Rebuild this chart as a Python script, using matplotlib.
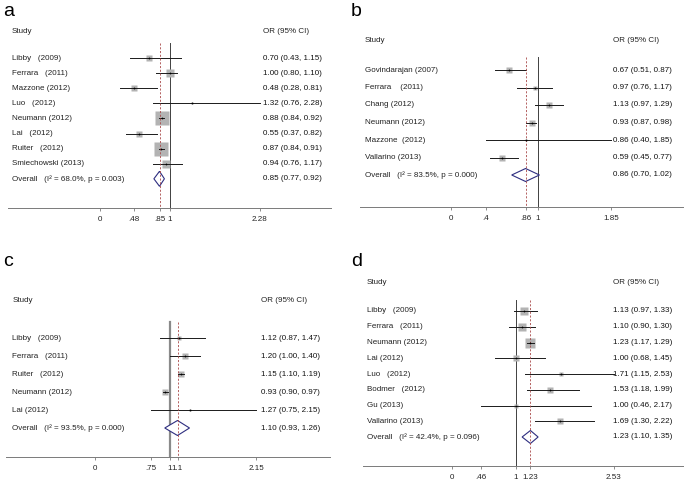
import numpy as np
import matplotlib
matplotlib.use("Agg")
import matplotlib.pyplot as plt
from matplotlib.patches import Polygon

plt.rcParams['font.family'] = ['Liberation Sans', 'DejaVu Sans']

W, H = 687, 483
FS = 5.8

##### DATA
# panel a
a_study = ["Libby   (2009)", "Ferrara   (2011)", "Mazzone (2012)", "Luo   (2012)",
           "Neumann (2012)", "Lai   (2012)", "Ruiter   (2012)", "Smiechowski (2013)"]
a_or = [0.70, 1.00, 0.48, 1.32, 0.88, 0.55, 0.87, 0.94]
a_lo = [0.43, 0.80, 0.28, 0.76, 0.84, 0.37, 0.84, 0.76]
a_hi = [1.15, 1.10, 0.81, 2.28, 0.92, 0.82, 0.91, 1.17]
a_wt = [5.1, 11.4, 6.9, 0.6, 27.7, 6.9, 31.8, 9.1]
a_pool = (0.85, 0.77, 0.92)
a_het = "68.0%", "0.003"
a_ticks = [0, 0.48, 0.85, 1, 2.28]
a_ticklabels = ["0", ".48", ".85", "1", "2.28"]

# panel b
b_study = ["Govindarajan (2007)", "Ferrara    (2011)", "Chang (2012)", "Neumann (2012)",
           "Mazzone  (2012)", "Vallarino (2013)"]
b_or = [0.67, 0.97, 1.13, 0.93, 0.86, 0.59]
b_lo = [0.51, 0.76, 0.97, 0.87, 0.40, 0.45]
b_hi = [0.87, 1.17, 1.29, 0.98, 1.85, 0.77]
b_wt = [18, 14, 19, 24, 3, 20]
b_pool = (0.86, 0.70, 1.02)
b_het = "83.5%", "0.000"
b_ticks = [0, 0.4, 0.86, 1, 1.85]
b_ticklabels = ["0", ".4", ".86", "1", "1.85"]

# panel c
c_study = ["Libby   (2009)", "Ferrara   (2011)", "Ruiter   (2012)", "Neumann (2012)", "Lai (2012)"]
c_or = [1.12, 1.20, 1.15, 0.93, 1.27]
c_lo = [0.87, 1.00, 1.10, 0.90, 0.75]
c_hi = [1.47, 1.40, 1.19, 0.97, 2.15]
c_wt = [17, 21, 29, 28, 5]
c_pool = (1.10, 0.93, 1.26)
c_het = "93.5%", "0.000"
c_ticks = [0, 0.75, 1, 1.1, 2.15]
c_ticklabels = ["0", ".75", "1", "1.1", "2.15"]

# panel d
d_study = ["Libby   (2009)", "Ferrara   (2011)", "Neumann (2012)", "Lai (2012)",
           "Luo   (2012)", "Bodmer   (2012)", "Gu (2013)", "Vallarino (2013)"]
d_or = [1.13, 1.10, 1.23, 1.00, 1.71, 1.53, 1.00, 1.69]
d_lo = [0.97, 0.90, 1.17, 0.68, 1.15, 1.18, 0.46, 1.30]
d_hi = [1.33, 1.30, 1.29, 1.45, 2.53, 1.99, 2.17, 2.22]
d_wt = [17, 15, 30, 8, 5, 9, 3, 9]
d_pool = (1.23, 1.10, 1.35)
d_het = "42.4%", "0.096"
d_ticks = [0, 0.46, 1, 1.23, 2.53]
d_ticklabels = ["0", ".46", "1", "1.23", "2.53"]

fig = plt.figure(figsize=(W / 100, H / 100), dpi=100)


def forest(letter, study, orv, lo, hi, wt, pool, het, ticks, ticklabels, lay):
    # lay: pixel layout of the panel
    x0, x1, px0, scale = lay["x0"], lay["x1"], lay["px0"], lay["scale"]
    ay, fy, sp, hy = lay["axis_y"], lay["first_y"], lay["sp"], lay["head_y"]
    top = hy - 12
    ax = fig.add_axes([x0 / W, 1 - ay / H, (x1 - x0) / W, (ay - top) / H])
    ax.set_xlim((x0 - px0) / scale, (x1 - px0) / scale)
    ax.set_ylim((ay - fy) / sp, (top - fy) / sp)

    n = len(study)
    rows = np.arange(n)
    line_top = (lay["line_y"] - fy) / sp
    ybot = (ay - fy) / sp

    # reference lines
    ax.plot([1, 1], [line_top, ybot], color=lay.get("ref_c", "#404040"),
            lw=lay.get("ref_lw", 0.7), zorder=1)
    ax.plot([pool[0], pool[0]], [line_top, ybot], color="#a84848", lw=0.6,
            ls=(0, (2.5, 2)), zorder=4)

    # study boxes and CIs
    for i in rows:
        side = lay["k"] * np.sqrt(wt[i]) / 1.389
        ax.plot(orv[i], i, marker="s", ms=side, color="#b3b3b3", mec="none", zorder=2)
        ax.plot([lo[i], hi[i]], [i, i], color="#1a1a1a", lw=0.7, zorder=3)
        ax.plot(orv[i], i, marker="o", ms=1.3, color="black", mec="none", zorder=5)
        ax.text(0.0, i, study[i], transform=ax.get_yaxis_transform(), fontsize=FS,
                va="center", ha="left", color="#222222").set_x(lay["lab_f"])
        ax.text(lay["or_f"], i, "%.2f (%.2f, %.2f)" % (orv[i], lo[i], hi[i]),
                transform=ax.get_yaxis_transform(), fontsize=FS, va="center", ha="left",
                color="#111111")

    # pooled diamond
    h = lay["dh"] / sp
    est, plo, phi = pool
    ax.add_patch(Polygon([[plo, n], [est, n - h], [phi, n], [est, n + h]], closed=True,
                         facecolor="white", edgecolor="#2e2e80", lw=0.8, zorder=3))
    ax.text(lay["lab_f"], n, "Overall   (I² = %s, p = %s)" % het,
            transform=ax.get_yaxis_transform(), fontsize=FS, va="center", ha="left",
            color="#222222")
    ax.text(lay["or_f"], n, "%.2f (%.2f, %.2f)" % pool, transform=ax.get_yaxis_transform(),
            fontsize=FS, va="center", ha="left", color="#111111")

    hrow = (hy - fy) / sp
    ax.text(lay["lab_f"], hrow, "Study", transform=ax.get_yaxis_transform(), fontsize=FS,
            va="center", ha="left", color="#222222")
    ax.text(lay["or_f"], hrow, "OR (95% CI)", transform=ax.get_yaxis_transform(),
            fontsize=FS, va="center", ha="left", color="#222222")

    for s in ["top", "right", "left"]:
        ax.spines[s].set_visible(False)
    ax.spines["bottom"].set_color("#7a7a7a")
    ax.spines["bottom"].set_linewidth(0.7)
    ax.set_yticks([])
    ax.set_xticks(ticks)
    ax.set_xticklabels(ticklabels)
    ax.tick_params(axis="x", length=2, width=0.6, color="#7a7a7a", labelsize=FS,
                   pad=4, labelcolor="#222222")
    ax.patch.set_alpha(0)

    fig.text(lay["let_x"] / W, 1 - lay["let_y"] / H, letter, fontsize=14, ha="left",
             va="center")


lay_a = dict(x0=8, x1=331, px0=100, scale=70, axis_y=208, first_y=58, sp=15.1,
             head_y=31, line_y=43, lab_f=0.012, or_f=0.789, k=2.66, dh=7.5,
             let_x=3, let_y=12)
lay_b = dict(x0=360, x1=683, px0=451, scale=86.7, axis_y=207, first_y=70, sp=17.5,
             head_y=40, line_y=57, lab_f=0.015, or_f=0.783, k=1.22, dh=6.5,
             let_x=351, let_y=12)
lay_c = dict(x0=6, x1=330, px0=95, scale=75, axis_y=457, first_y=338, sp=18,
             head_y=301, line_y=322, lab_f=0.019, or_f=0.787, k=1.11, dh=7.5,
             let_x=3, let_y=262, ref_c="#8a8a8a", ref_lw=1.6)
lay_d = dict(x0=363, x1=683, px0=451.7, scale=64, axis_y=466, first_y=311, sp=15.75,
             head_y=282, line_y=300, lab_f=0.0125, or_f=0.781, k=1.83, dh=6.5,
             let_x=351, let_y=262)

forest("a", a_study, a_or, a_lo, a_hi, a_wt, a_pool, a_het, a_ticks, a_ticklabels, lay_a)
forest("b", b_study, b_or, b_lo, b_hi, b_wt, b_pool, b_het, b_ticks, b_ticklabels, lay_b)
forest("c", c_study, c_or, c_lo, c_hi, c_wt, c_pool, c_het, c_ticks, c_ticklabels, lay_c)
forest("d", d_study, d_or, d_lo, d_hi, d_wt, d_pool, d_het, d_ticks, d_ticklabels, lay_d)

fig.savefig("out.png", dpi=100)
